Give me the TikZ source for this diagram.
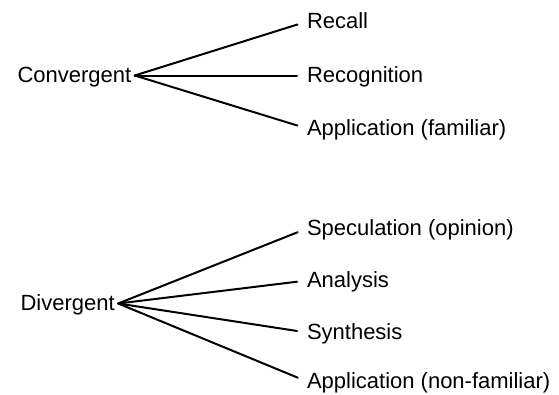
\documentclass[tikz,border=0pt]{standalone}
\usepackage{fontspec}
\setmainfont{Liberation Sans}
\newlength{\du}
\setlength{\du}{1pt}

\begin{document}
\begin{tikzpicture}[
  word/.style={anchor=base west,inner sep=0pt,outer sep=0pt,text height=16pt,text depth=3pt,
    font=\fontsize{22}{26}\selectfont,color=dialinecolor},
  root/.style={word,inner xsep=3.5pt},
  branch/.style={draw=dialinecolor,line width=2pt,shorten >=10pt,line cap=round}]
\pgftransformxscale{1.000000}
\pgftransformyscale{-1.000000}
\definecolor{dialinecolor}{rgb}{0.000000, 0.000000, 0.000000}
\useasboundingbox (0\du,0\du) rectangle (559\du,394\du);
% convergent
\node[root] (conv) at (14\du,82\du){Convergent};
\node[word] (recall) at (307\du,28\du){Recall};
\node[word] (recog) at (307\du,82\du){Recognition};
\node[word] (appfam) at (307\du,135\du){Application (familiar)};
\draw[branch] (conv.east)--(recall.west);
\draw[branch] (conv.east)--(recog.west);
\draw[branch] (conv.east)--(appfam.west);
% divergent
\node[root] (div) at (17\du,310\du){Divergent};
\node[word] (spec) at (307\du,235\du){Speculation (opinion)};
\node[word] (anal) at (307\du,287\du){Analysis};
\node[word] (synth) at (307\du,339\du){Synthesis};
\node[word] (appnon) at (307\du,388\du){Application (non-familiar)};
\draw[branch] (div.east)--(spec.west);
\draw[branch] (div.east)--(anal.west);
\draw[branch] (div.east)--(synth.west);
\draw[branch] (div.east)--(appnon.west);
\end{tikzpicture}
\end{document}
